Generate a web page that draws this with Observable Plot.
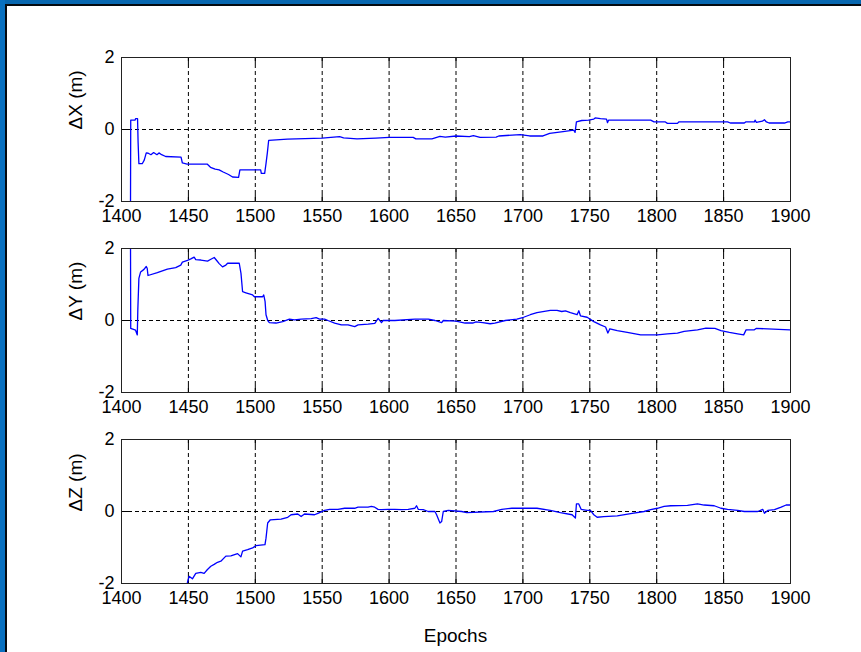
<!DOCTYPE html>
<html>
<head>
<meta charset="utf-8">
<script src="https://cdn.jsdelivr.net/npm/d3@7"></script>
<script src="https://cdn.jsdelivr.net/npm/@observablehq/plot@0.6"></script>
<style>
  body { margin: 0; background: #fff; }
  #fig { position: relative; width: 861px; height: 652px; overflow: hidden; background: #fff; font-family: "Liberation Sans", Arial, sans-serif; }
  .bar { position: absolute; }
  .panel { position: absolute; left: 0; }
  #xlabel { position: absolute; left: 121px; width: 669px; top: 626px; text-align: center; font-size: 19px; line-height: 1; color: #000; }
</style>
</head>
<body>
<div id="fig">
  <div class="bar" style="left:0;top:0;width:861px;height:4px;background:#0767b0"></div>
  <div class="bar" style="left:0;top:0;width:5px;height:652px;background:#0870c0"></div>
  <div class="bar" style="left:5px;top:4px;width:856px;height:2px;background:#050a10"></div>
  <div class="bar" style="left:5px;top:4px;width:2px;height:648px;background:#050a10"></div>
  <div id="p1" class="panel" style="top:47px"></div>
  <div id="p2" class="panel" style="top:238px"></div>
  <div id="p3" class="panel" style="top:429px"></div>
  <div id="xlabel">Epochs</div>
</div>
<script>
// ---- tick labels ----
const xTicks = [1400, 1450, 1500, 1550, 1600, 1650, 1700, 1750, 1800, 1850, 1900];
const yTicks = [-2, 0, 2];
const yLabels = ["\u0394X (m)", "\u0394Y (m)", "\u0394Z (m)"];

// ---- ΔX series ----
const epochsX = [1406.7,1406.9,1410.2,1410.5,1412.0,1412.4,1413.0,1415.5,1417.0,1418.5,1420.0,1422.0,1424.0,1426.5,1428.0,1430.0,1433.0,1444.5,1445.5,1449.0,1464.0,1466.5,1470.0,1473.0,1476.0,1480.0,1483.0,1487.5,1488.5,1504.0,1504.5,1507.0,1508.0,1509.0,1510.0,1524.0,1550.0,1563.0,1566.0,1576.0,1590.0,1600.0,1618.0,1620.0,1632.0,1638.0,1642.0,1650.0,1660.0,1663.0,1668.0,1680.0,1682.0,1698.0,1705.0,1715.0,1720.0,1730.0,1738.0,1739.0,1740.0,1744.0,1749.0,1753.0,1754.0,1758.0,1762.5,1763.2,1764.0,1795.5,1798.0,1806.5,1808.0,1815.5,1816.5,1853.0,1855.0,1865.5,1866.5,1873.0,1873.5,1874.5,1879.0,1880.5,1882.0,1884.0,1895.5,1898.0,1900.0];
const valuesX = [-2.6,0.26,0.26,0.3,0.3,-0.35,-0.95,-0.95,-0.85,-0.65,-0.66,-0.7,-0.64,-0.7,-0.65,-0.7,-0.75,-0.77,-0.93,-0.96,-0.96,-1.05,-1.1,-1.12,-1.18,-1.25,-1.32,-1.33,-1.12,-1.12,-1.22,-1.22,-0.95,-0.65,-0.3,-0.27,-0.24,-0.2,-0.23,-0.26,-0.24,-0.22,-0.22,-0.26,-0.26,-0.19,-0.21,-0.18,-0.2,-0.17,-0.22,-0.21,-0.18,-0.14,-0.18,-0.18,-0.11,-0.06,-0.02,-0.08,0.21,0.25,0.26,0.29,0.32,0.3,0.29,0.19,0.26,0.26,0.21,0.21,0.17,0.17,0.21,0.21,0.18,0.18,0.21,0.21,0.26,0.2,0.23,0.27,0.21,0.18,0.18,0.21,0.21];

// ---- ΔY series ----
const epochsY = [1406.7,1406.9,1410.5,1411.8,1412.2,1413.0,1414.3,1416.8,1418.5,1419.2,1419.8,1426.8,1434.3,1440.5,1444.3,1445.5,1449.3,1451.8,1454.3,1455.5,1459.3,1464.3,1466.8,1469.3,1471.3,1473.0,1475.5,1478.0,1479.3,1488.0,1489.3,1490.5,1493.0,1498.0,1499.3,1505.5,1506.3,1507.3,1508.0,1509.3,1510.5,1515.5,1520.5,1525.5,1529.3,1534.3,1541.8,1545.5,1548.0,1551.8,1554.3,1559.3,1564.3,1569.3,1574.3,1576.8,1584.3,1589.3,1591.8,1594.3,1595.5,1604.3,1619.3,1629.3,1634.3,1639.3,1640.5,1650.0,1656.8,1662.5,1665.0,1670.0,1675.5,1679.0,1686.8,1695.5,1700.5,1705.5,1710.5,1720.5,1725.5,1729.0,1731.8,1735.5,1740.5,1741.8,1743.0,1748.0,1753.0,1758.0,1761.8,1763.5,1765.0,1770.5,1778.0,1788.0,1800.5,1808.0,1815.5,1820.5,1830.5,1836.8,1843.5,1848.0,1854.3,1860.5,1865.0,1866.8,1873.0,1874.3,1900.0];
const valuesY = [2.6,-0.22,-0.27,-0.4,0.3,1.17,1.35,1.42,1.5,1.45,1.25,1.33,1.43,1.47,1.54,1.62,1.67,1.71,1.76,1.69,1.68,1.65,1.7,1.75,1.66,1.58,1.49,1.54,1.59,1.59,1.31,0.8,0.77,0.71,0.66,0.66,0.71,0.53,0.16,0.0,-0.06,-0.07,-0.03,0.04,0.02,0.04,0.05,0.08,0.04,0.04,0.0,-0.07,-0.12,-0.12,-0.17,-0.12,-0.1,-0.08,0.06,-0.06,0.0,0.0,0.04,0.04,0.0,-0.06,0.0,-0.02,-0.07,-0.07,-0.04,-0.06,-0.09,-0.07,0.0,0.04,0.09,0.16,0.22,0.28,0.28,0.25,0.27,0.22,0.16,0.27,0.13,0.09,-0.03,-0.12,-0.18,-0.35,-0.23,-0.28,-0.33,-0.4,-0.4,-0.37,-0.35,-0.3,-0.26,-0.21,-0.22,-0.28,-0.33,-0.37,-0.4,-0.26,-0.26,-0.22,-0.26];

// ---- ΔZ series ----
const epochsZ = [1448.7,1449.25,1450.5,1453.0,1455.5,1459.25,1461.75,1464.25,1466.75,1469.25,1471.75,1474.25,1478.0,1481.75,1486.75,1489.25,1490.5,1494.25,1498.0,1500.5,1507.25,1508.0,1509.25,1511.25,1519.25,1524.25,1526.75,1531.75,1534.25,1536.75,1544.25,1546.75,1551.75,1555.5,1561.75,1566.75,1574.25,1576.75,1584.25,1586.75,1589.25,1591.75,1594.25,1599.25,1604.25,1609.25,1614.25,1619.25,1620.5,1621.75,1625.5,1629.25,1634.25,1635.5,1638.0,1639.25,1640.5,1644.25,1654.25,1658.0,1678.0,1684.25,1691.75,1700.5,1710.5,1720.5,1728.0,1736.75,1739.25,1740.0,1741.75,1743.5,1748.0,1750.5,1753.0,1755.5,1760.5,1770.5,1780.5,1790.5,1795.5,1800.5,1805.5,1810.5,1823.0,1830.5,1835.5,1843.0,1848.0,1853.0,1860.5,1865.5,1875.5,1879.25,1880.5,1883.0,1888.0,1893.0,1896.75,1900.0];
const valuesZ = [-2.1,-1.98,-1.8,-1.87,-1.72,-1.69,-1.72,-1.61,-1.52,-1.47,-1.41,-1.38,-1.24,-1.23,-1.17,-1.26,-1.1,-1.06,-1.01,-0.95,-0.92,-0.74,-0.32,-0.23,-0.21,-0.16,-0.09,-0.07,-0.14,-0.07,-0.09,-0.05,0.03,0.06,0.06,0.09,0.09,0.12,0.12,0.14,0.12,0.06,0.05,0.06,0.06,0.05,0.06,0.09,0.16,0.06,0.05,0.0,0.0,-0.09,-0.32,-0.28,0.0,0.03,0.0,-0.03,0.0,0.06,0.09,0.09,0.09,0.03,-0.03,-0.09,-0.18,0.21,0.21,0.06,0.03,0.03,-0.09,-0.16,-0.14,-0.12,-0.06,0.0,0.05,0.09,0.14,0.16,0.17,0.21,0.18,0.16,0.09,0.06,0.03,0.0,0.0,0.06,-0.05,0.03,0.05,0.12,0.18,0.18];

const tickFont = "'Liberation Sans', Arial, sans-serif";
const labelFont = "'Liberation Sans', Arial, sans-serif";

function panel(epochs, values, label) {
  const W = 861, H = 191, mt = 10, mb = 37, ml = 121, mr = 71;
  const ph = H - mt - mb, pw = W - ml - mr;
  const data = epochs.map((e, i) => ({e, v: values[i]}));
  const grid = {stroke: "#000", strokeWidth: 1, strokeDasharray: "4,3"};
  const tick = {stroke: "#000", strokeWidth: 1};
  return Plot.plot({
    width: W, height: H,
    marginLeft: ml, marginRight: mr, marginTop: mt, marginBottom: mb,
    x: {domain: [1400, 1900]},
    y: {domain: [-2, 2]},
    style: {background: "transparent", color: "#000", fontFamily: tickFont, overflow: "visible"},
    marks: [
      Plot.ruleX(xTicks.slice(1, -1), grid),
      Plot.ruleY([0], grid),
      Plot.ruleX(xTicks, {...tick, insetTop: ph - 7}),
      Plot.ruleX(xTicks, {...tick, insetBottom: ph - 7}),
      Plot.ruleY(yTicks, {...tick, insetLeft: pw - 7}),
      Plot.ruleY(yTicks, {...tick, insetRight: pw - 7}),
      Plot.line(data, {x: "e", y: "v", stroke: "#0000ff", strokeWidth: 1.3, clip: true}),
      Plot.frame({stroke: "#222", strokeWidth: 1}),
      Plot.axisX(xTicks, {tickSize: 0, tickPadding: 8, tickFormat: d => String(d), fontSize: 18, fontFamily: tickFont, label: null}),
      Plot.axisY(yTicks, {tickSize: 0, tickPadding: 7, tickFormat: d => String(d), fontSize: 18, fontFamily: tickFont, label: null}),
      Plot.text([label], {text: d => d, frameAnchor: "left", dx: -46, rotate: -90, fontSize: 19, fontFamily: labelFont, fill: "#000"})
    ]
  });
}

document.getElementById("p1").append(panel(epochsX, valuesX, yLabels[0]));
document.getElementById("p2").append(panel(epochsY, valuesY, yLabels[1]));
document.getElementById("p3").append(panel(epochsZ, valuesZ, yLabels[2]));
</script>
</body>
</html>
